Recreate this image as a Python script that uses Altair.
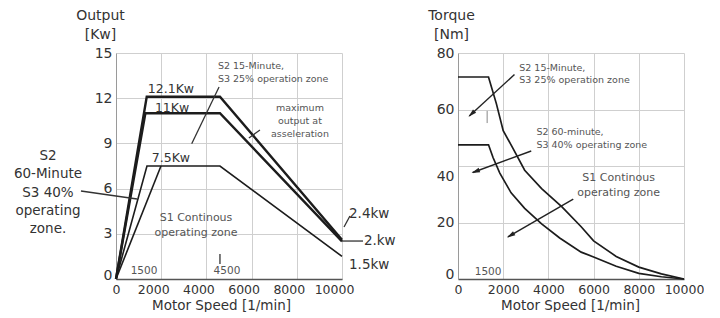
import math
import altair as alt
import pandas as pd

FONT = "DejaVu Sans"

# ---------------- Left panel: Output [kW] vs motor speed ----------------
out_s3_25_speed = [0, 1360, 4600, 10000]
out_s3_25_kw = [0, 12.1, 12.1, 2.6]
out_accel_speed = [0, 1300, 4600, 10000]
out_accel_kw = [0, 11.0, 11.0, 2.5]
out_s1_speed = [0, 1370, 4600, 10000]
out_s1_kw = [0, 7.5, 7.5, 1.5]
out_s2_60_speed = [0, 1990]
out_s2_60_kw = [0, 7.5]

out_x_ticks = [0, 2000, 4000, 6000, 8000, 10000]
out_y_ticks = [0, 3, 6, 9, 12, 15]

# value labels on the curves
out_lbl_text = ["12.1Kw", "11Kw", "7.5Kw"]
out_lbl_x = [2430, 2480, 2430]
out_lbl_y = [12.6, 11.35, 8.03]

# end labels at the right
out_end_text = ["2.4kw", "2.kw", "1.5kw"]
out_end_x = [10310, 10970, 10310]
out_end_y = [4.31, 2.52, 0.93]

# zone captions (small)
out_note_text = ["S2 15-Minute,", "S3 25% operation zone"]
out_note_x = [4510, 4510]
out_note_y = [14.13, 13.27]
out_max_text = ["maximum", "output at", "asseleration"]
out_max_x = [8140, 8140, 8140]
out_max_y = [11.35, 10.48, 9.62]
out_s1_text = ["S1 Continous", "operating zone"]
out_s1_x = [3540, 3540]
out_s1_y = [4.05, 3.05]
out_side_text = ["S2", "60-Minute", "S3 40%", "operating", "zone."]
out_side_x = [-3010] * 5
out_side_y = [8.16, 6.97, 5.71, 4.51, 3.32]
out_mark_text = ["1500", "4500"]
out_mark_x = [1240, 4910]
out_mark_y = [0.55, 0.55]

# pointer lines (x, y, x2, y2)
out_ptr_x = [4560, 5880, -1550, 10090, 10000, 4600]
out_ptr_y = [12.74, 9.36, 5.84, 3.45, 2.52, 1.66]
out_ptr_x2 = [3350, 6370, 930, 10350, 10930, 4600]
out_ptr_y2 = [8.98, 9.89, 5.31, 4.18, 2.52, 1.0]

# ---------------- Right panel: Torque [Nm] vs motor speed ----------------
tq_s2_15_speed = [0, 1350, 1700, 2000, 2450, 2950, 3700, 4600, 5450, 6000, 7000, 8000, 9000, 10000]
tq_s2_15_nm = [71.5, 71.5, 62, 52.5, 46, 38.5, 32, 25.5, 18.5, 13.5, 8, 4.2, 1.8, 0]
tq_s2_60_speed = [0, 1350, 1550, 1850, 2350, 2950, 3700, 4500, 5450, 6000, 7000, 8000, 9000, 10000]
tq_s2_60_nm = [47.5, 47.5, 43, 37.5, 30.5, 25, 19.5, 14.5, 9.5, 7.8, 4.5, 2, 0.8, 0]

tq_x_ticks = [0, 2000, 4000, 6000, 8000, 10000]
tq_y_ticks = [0, 20, 40, 60, 80]

tq_note_text = ["S2 15-Minute,", "S3 25% operation zone", "S2 60-minute,", "S3 40% operating zone"]
tq_note_x = [2710, 2710, 3470, 3470]
tq_note_y = [74.6, 70.4, 52.0, 47.5]
tq_s1_text = ["S1 Continous", "operating zone"]
tq_s1_x = [7110, 7110]
tq_s1_y = [35.9, 30.6]
tq_mark_text = ["1500"]
tq_mark_x = [1330]
tq_mark_y = [2.6]

# arrows (start -> end)
tq_arr_x = [2500, 3240, 5100]
tq_arr_y = [72.4, 45.3, 28.3]
tq_arr_x2 = [500, 650, 2210]
tq_arr_y2 = [57.7, 37.7, 14.9]
tq_tick_x = [1290]
tq_tick_y = [59.5]
tq_tick_y2 = [55.2]

W = 226
H = 226

LINE = "#1c1c1c"
TXT = "#333333"
NOTE = "#555555"
GRID = "#cfcfcf"


def series_df(pairs):
    rows = []
    for name, xs, ys in pairs:
        for i, (a, b) in enumerate(zip(xs, ys)):
            rows.append({"series": name, "speed": a, "value": b, "i": i})
    return pd.DataFrame(rows)


def text_df(texts, xs, ys):
    return pd.DataFrame({"t": texts, "speed": xs, "value": ys})


def make_axes(xdom, ydom, xticks, yticks, ytitle, ytitle_x, xlabel_offset, ylabel_offset, xtitle_x):
    x = alt.X(
        "speed:Q",
        scale=alt.Scale(domain=xdom, nice=False, zero=False),
        axis=alt.Axis(
            values=xticks, format="d", title="Motor Speed [1/min]", grid=True, gridColor=GRID,
            ticks=False, domainColor="#555555", domainWidth=1.5,
            labelFont=FONT, labelFontSize=12.5, labelColor=TXT, labelPadding=4,
            labelOffset=xlabel_offset, labelFlush=False,
            titleFont=FONT, titleFontSize=13.5, titleFontWeight="normal", titleColor=TXT,
            titleBaseline="top", titleY=19, titleX=xtitle_x, titleAlign="center",
        ),
    )
    y = alt.Y(
        "value:Q",
        scale=alt.Scale(domain=ydom, nice=False, zero=False),
        axis=alt.Axis(
            values=yticks, format="d", title=ytitle, grid=True, gridColor=GRID,
            ticks=False, domainColor="#9a9a9a",
            labelFont=FONT, labelFontSize=14, labelColor=TXT, labelPadding=4,
            labelOffset=ylabel_offset, labelFlush=False,
            titleFont=FONT, titleFontSize=14, titleFontWeight="normal", titleColor=TXT,
            titleAngle=0, titleAlign="center", titleBaseline="top",
            titleX=ytitle_x, titleY=-45, titleLineHeight=19,
        ),
    )
    return x, y


def texts(df, size, color, align="center", dx=0):
    return alt.Chart(df).mark_text(
        font=FONT, fontSize=size, color=color, align=align, baseline="middle", dx=dx
    ).encode(x="speed:Q", y="value:Q", text="t:N")


# ---------------- build left panel ----------------
lx, ly = make_axes(
    [0, 10000], [0, 15], out_x_ticks, out_y_ticks, ["Output", "[Kw]"], -16,
    {"condition": {"test": "datum.value == 0", "value": 0}, "value": -8},
    {"condition": {"test": "datum.value == 0", "value": -4}, "value": 0},
    105,
)

thick = series_df([
    ("s3_25", out_s3_25_speed, out_s3_25_kw),
    ("accel", out_accel_speed, out_accel_kw),
])
thin = series_df([
    ("s1", out_s1_speed, out_s1_kw),
    ("s2_60", out_s2_60_speed, out_s2_60_kw),
])

left_base = alt.Chart(thick).mark_line(color=LINE, strokeWidth=2.4).encode(
    x=lx, y=ly, detail="series:N", order="i:Q"
)
left_thin = alt.Chart(thin).mark_line(color=LINE, strokeWidth=1.6).encode(
    x="speed:Q", y="value:Q", detail="series:N", order="i:Q"
)
ptr_df = pd.DataFrame({"speed": out_ptr_x, "value": out_ptr_y, "x2": out_ptr_x2, "y2": out_ptr_y2})
left_ptr = alt.Chart(ptr_df).mark_rule(color="#333333", strokeWidth=1.3).encode(
    x="speed:Q", y="value:Q", x2="x2:Q", y2="y2:Q"
)

left = alt.layer(
    left_base,
    left_thin,
    left_ptr,
    texts(text_df(out_lbl_text, out_lbl_x, out_lbl_y), 12.5, TXT),
    texts(text_df(out_end_text, out_end_x, out_end_y), 13.5, TXT, align="left"),
    texts(text_df(out_note_text, out_note_x, out_note_y), 9.5, NOTE, align="left"),
    texts(text_df(out_max_text, out_max_x, out_max_y), 9.5, NOTE),
    texts(text_df(out_s1_text, out_s1_x, out_s1_y), 11, NOTE),
    texts(text_df(out_side_text, out_side_x, out_side_y), 13.5, TXT),
    texts(text_df(out_mark_text, out_mark_x, out_mark_y), 10.5, NOTE),
).properties(width=W, height=H)

# ---------------- build right panel ----------------
rx, ry = make_axes(
    [0, 10000], [0, 80], tq_x_ticks, tq_y_ticks, ["Torque", "[Nm]"], -7,
    0,
    {"condition": [{"test": "datum.value == 0", "value": -5},
                   {"test": "datum.value == 40", "value": 10}], "value": 0},
    112,
)

curves = series_df([
    ("s2_15", tq_s2_15_speed, tq_s2_15_nm),
    ("s2_60", tq_s2_60_speed, tq_s2_60_nm),
])
right_base = alt.Chart(curves).mark_line(color=LINE, strokeWidth=1.7).encode(
    x=rx, y=ry, detail="series:N", order="i:Q"
)

arr_df = pd.DataFrame({"speed": tq_arr_x, "value": tq_arr_y, "x2": tq_arr_x2, "y2": tq_arr_y2})
right_arr = alt.Chart(arr_df).mark_rule(color="#222222", strokeWidth=1.4).encode(
    x="speed:Q", y="value:Q", x2="x2:Q", y2="y2:Q"
)

# arrow heads: angle derived from the pixel direction of each arrow
px_x = W / 10000.0
px_y = H / 80.0
head_rows = []
for a, b, c, d in zip(tq_arr_x, tq_arr_y, tq_arr_x2, tq_arr_y2):
    dx = (c - a) * px_x
    dy = -(d - b) * px_y
    ang = math.degrees(math.atan2(dx, -dy)) % 360
    L = math.hypot(dx, dy)
    back = 3.0 / L
    head_rows.append({"speed": c - (c - a) * back, "value": d - (d - b) * back, "ang": ang})
head_df = pd.DataFrame(head_rows)
right_heads = alt.Chart(head_df).mark_point(
    shape="M0,-1L0.55,1L-0.55,1Z", filled=True, color="#222222", size=70, opacity=1
).encode(x="speed:Q", y="value:Q", angle=alt.Angle("ang:Q", scale=None))

tick_df = pd.DataFrame({"speed": tq_tick_x, "value": tq_tick_y, "y2": tq_tick_y2})
right_tick = alt.Chart(tick_df).mark_rule(color="#888888", strokeWidth=1).encode(
    x="speed:Q", y="value:Q", y2="y2:Q"
)

right = alt.layer(
    right_base,
    right_tick,
    right_arr,
    right_heads,
    texts(text_df(tq_note_text, tq_note_x, tq_note_y), 9.5, NOTE, align="left"),
    texts(text_df(tq_s1_text, tq_s1_x, tq_s1_y), 11, NOTE),
    texts(text_df(tq_mark_text, tq_mark_x, tq_mark_y), 10.5, NOTE),
).properties(width=W, height=H)

chart = alt.hconcat(left, right, spacing=31).properties(
    padding={"left": 5, "top": 0, "right": 0, "bottom": 0},
    background="white",
).configure_view(stroke=None)

chart.save("out.html", embed_options={"renderer": "svg", "actions": False})
